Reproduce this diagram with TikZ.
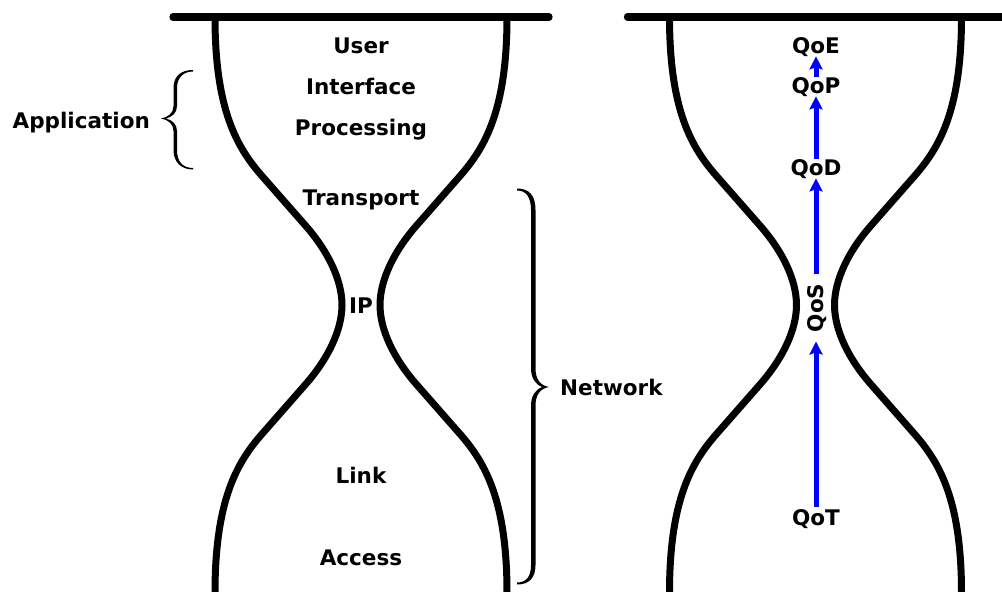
\documentclass[tikz,border=0pt]{standalone}
\usepackage{fontspec}
\setmainfont{DejaVu Sans}
\usetikzlibrary{arrows.meta}
\begin{document}
\begin{tikzpicture}[x=1pt,y=-1pt]
\tikzset{
  glass/.style={line width=7pt, line cap=butt, line join=round},
  topbar/.style={line width=7.3pt, line cap=round},
  lbl/.style={font=\fontsize{21.5}{24}\selectfont\bfseries, inner sep=0pt},
  flow/.style={draw=blue, line width=5pt, -{Stealth[length=13pt,width=13pt,inset=2pt]}},
  hourglass/.pic={
    \draw[topbar] (-188,17) -- (188,17);
    \draw[glass] (-146,17) .. controls (-146,110) and (-124,147.5) .. (-99,176)
      -- (-56,225) .. controls (-33,251) and (-19,280) .. (-19,305)
      .. controls (-19,330) and (-33,359) .. (-56,385)
      -- (-99,434) .. controls (-124,462.5) and (-146,500) .. (-146,593) -- (-146,602);
    \draw[glass] (146,17) .. controls (146,110) and (124,147.5) .. (99,176)
      -- (56,225) .. controls (33,251) and (19,280) .. (19,305)
      .. controls (19,330) and (33,359) .. (56,385)
      -- (99,434) .. controls (124,462.5) and (146,500) .. (146,593) -- (146,602);
  }
}
\useasboundingbox (0,0) rectangle (1002,592);
\fill[white] (0,0) rectangle (1002,592);

\pic at (361,0) {hourglass};
\pic at (815.5,0) {hourglass};

% left labels
\node[lbl, anchor=base] (user) at (361,53) {User};
\node[lbl, anchor=base] (iface) at (361,94) {Interface};
\node[lbl, anchor=base] (proc) at (361,135) {Processing};
\node[lbl, anchor=base] (trans) at (361,205) {Transport};
\node[lbl, anchor=base] (ip) at (361,313) {IP};
\node[lbl, anchor=base] (link) at (361,483) {Link};
\node[lbl, anchor=base] (access) at (361,565) {Access};
\node[lbl, anchor=base east] (app) at (150,128) {Application};
\node[lbl, anchor=base west] (net) at (560,395) {Network};

% braces
\fill (193,70) .. controls (181,70) and (173.5,76) .. (173.5,88)
  -- (173.5,106) .. controls (173.5,113) and (168,117.5) .. (161,118.5)
  .. controls (168,119.5) and (173.5,124) .. (173.5,131)
  -- (173.5,150) .. controls (173.5,162) and (181,169.5) .. (193,169.5)
  -- (193,168) .. controls (183,168) and (177,162) .. (177,150)
  -- (177,131) .. controls (177,124) and (172,120) .. (166,118.5)
  .. controls (172,117) and (177,113) .. (177,106)
  -- (177,88) .. controls (177,78) and (183,71.5) .. (193,71.5) -- cycle;
\fill (517,188.5) .. controls (529,188.5) and (535.5,195) .. (535.5,210)
  -- (535.5,368) .. controls (535.5,379) and (540,385.5) .. (549,387)
  .. controls (540,388.5) and (535.5,395) .. (535.5,406)
  -- (535.5,565) .. controls (535.5,578) and (529,584.5) .. (517,584.5)
  -- (517,582.5) .. controls (526,582.5) and (531,577) .. (531,565)
  -- (531,406) .. controls (531,396) and (535,390) .. (542,387)
  .. controls (535,384) and (531,378) .. (531,368)
  -- (531,210) .. controls (531,197) and (526,190.5) .. (517,190.5) -- cycle;

% right labels
\node[lbl, anchor=base] (qoe) at (816,53) {QoE};
\node[lbl, anchor=base] (qop) at (816,93) {QoP};
\node[lbl, anchor=base] (qod) at (816,175) {QoD};
\node[lbl, rotate=90] (qos) at (817,308) {QoS};
\node[lbl, anchor=base] (qot) at (816,525) {QoT};

% arrows
\draw[flow, shorten <=2pt, shorten >=9pt] (qot.north) -- (qot.north |- qos.west);
\draw[flow, shorten <=10pt] (qod.south |- qos.east) -- (qod.south);
\draw[flow] (qod.north) -- (qop.south);
\draw[flow] (qop.north) -- (qoe.south);
\end{tikzpicture}
\end{document}
